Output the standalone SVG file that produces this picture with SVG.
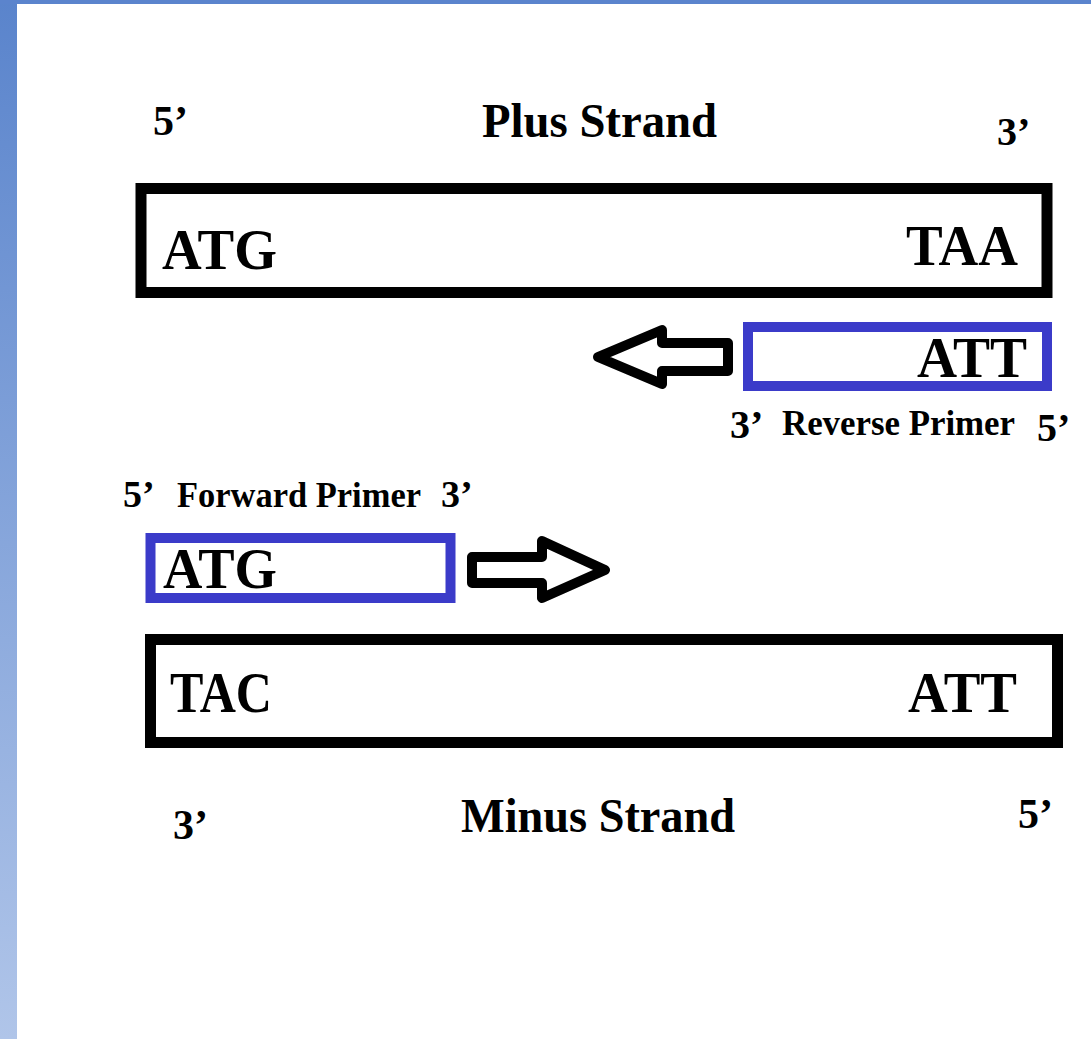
<svg xmlns="http://www.w3.org/2000/svg" width="1091" height="1039" viewBox="0 0 1091 1039">
  <defs>
    <linearGradient id="sideBar" x1="0" y1="0" x2="0" y2="1">
      <stop offset="0" stop-color="#5a84cc"/>
      <stop offset="1" stop-color="#b0c5e9"/>
    </linearGradient>
  </defs>
  <style>
    text { font-family: "Liberation Serif", "Times New Roman", serif; font-weight: bold; fill: #000; }
    .codon { font-size: 58px; }
    .title { font-size: 48px; }
    .end { font-size: 42px; }
    .label { font-size: 36px; }
    .strand { fill: #fff; stroke: #000; stroke-width: 11; }
    .primer { fill: #fff; stroke: #3b3bc9; stroke-width: 10; }
    .arrow { fill: #fff; stroke: #000; stroke-width: 10; stroke-linejoin: round; }
  </style>

  <!-- page background with slide frame -->
  <rect x="0" y="0" width="1091" height="1039" fill="#fff"/>
  <rect x="0" y="0" width="17" height="1039" fill="url(#sideBar)"/>
  <rect x="0" y="0" width="1091" height="4" fill="#5b84cd"/>

  <!-- plus strand -->
  <g id="plus-strand">
    <text class="end" x="153" y="135">5’</text>
    <text class="title" x="482" y="137" textLength="235" lengthAdjust="spacingAndGlyphs">Plus Strand</text>
    <text class="end" x="997" y="145" style="font-size:40px">3’</text>
    <rect class="strand" x="141" y="188.5" width="906" height="104"/>
    <text class="codon" x="162" y="269" textLength="115" lengthAdjust="spacingAndGlyphs">ATG</text>
    <text class="codon" x="906" y="265" textLength="112" lengthAdjust="spacingAndGlyphs">TAA</text>
  </g>

  <!-- reverse primer -->
  <g id="reverse-primer">
    <rect class="primer" x="748" y="327" width="299" height="59"/>
    <text class="codon" x="917" y="377" textLength="110" lengthAdjust="spacingAndGlyphs">ATT</text>
    <text class="end" x="730" y="438" style="font-size:40px">3’</text>
    <text class="label" x="782" y="435" textLength="233" lengthAdjust="spacingAndGlyphs">Reverse Primer</text>
    <text class="end" x="1037" y="441" style="font-size:40px">5’</text>
  </g>

  <!-- forward primer -->
  <g id="forward-primer">
    <text class="end" x="123" y="507" style="font-size:38px">5’</text>
    <text class="label" x="177" y="507" textLength="244" lengthAdjust="spacingAndGlyphs">Forward Primer</text>
    <text class="end" x="441" y="507" style="font-size:38px">3’</text>
    <rect class="primer" x="150.5" y="538" width="300" height="60"/>
    <text class="codon" x="163" y="588" textLength="114" lengthAdjust="spacingAndGlyphs">ATG</text>
  </g>

  <!-- minus strand -->
  <g id="minus-strand">
    <rect class="strand" x="150.5" y="639.5" width="907" height="103"/>
    <text class="codon" x="170" y="712" textLength="102" lengthAdjust="spacingAndGlyphs">TAC</text>
    <text class="codon" x="908" y="712" textLength="109" lengthAdjust="spacingAndGlyphs">ATT</text>
    <text class="end" x="173" y="839">3’</text>
    <text class="title" x="461" y="832" textLength="274" lengthAdjust="spacingAndGlyphs">Minus Strand</text>
    <text class="end" x="1018" y="828">5’</text>
  </g>

  <!-- extension direction arrows -->
  <g id="connectors">
    <polygon class="arrow" points="728,343 662,343 662,330 598,357 662,384 662,371 728,371"/>
    <polygon class="arrow" points="472,557 542,557 542,541 605,570 542,598 542,583 472,583"/>
  </g>
</svg>
